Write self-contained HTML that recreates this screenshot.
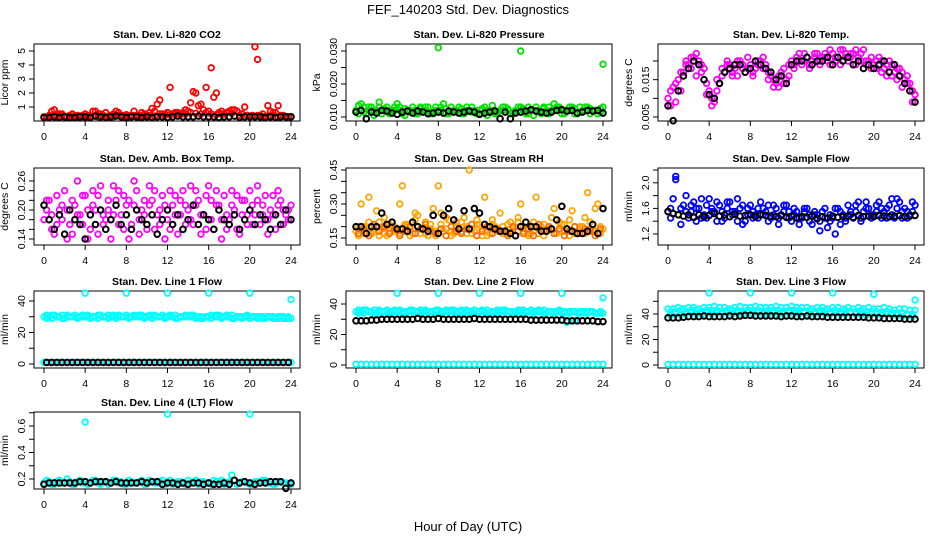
<!DOCTYPE html>
<html><head><meta charset="utf-8">
<style>
html,body{margin:0;padding:0;background:#fff;}
svg{display:block;font-family:"Liberation Sans",sans-serif;}
</style></head>
<body>
<svg id="chart" width="936" height="540" viewBox="0 0 936 540">
<text x="468" y="14" text-anchor="middle" font-size="13">FEF_140203  Std. Dev. Diagnostics</text>
<text x="468" y="531" text-anchor="middle" font-size="13">Hour of Day (UTC)</text>
</svg>
<script>
// ---------- DATA ----------
const xTicks = [0,4,8,12,16,20,24];

const co2Red1 = [0.3,0.4,0.8,0.5,0.3,0.4,0.3,0.35,0.5,0.3,0.7,0.5,0.6,0.4,0.7,0.3,0.45,0.4,0.3,0.6,0.4,0.9,1.2,0.5,0.6,0.5,0.6,0.6,0.7,2.1,1.1,0.8,0.7,1.7,0.6,0.5,0.7,0.8,0.4,1.0,0.3,5.3,0.4,0.3,0.7,0.6,0.4,0.3,0.3];
const co2Red2 = [0.3,0.7,0.4,0.5,0.3,0.5,0.4,0.3,0.4,0.7,0.5,0.4,0.3,0.5,0.6,0.4,0.3,0.7,0.4,0.5,0.6,0.7,1.5,0.5,2.4,0.6,0.5,0.8,1.3,2.0,1.2,2.4,3.8,2.0,0.7,0.6,0.8,0.7,0.5,0.4,0.4,4.4,0.5,1.1,0.6,1.1,0.4,0.3];
const co2Red3 = [0.25,0.35,0.3,0.4,0.3,0.35,0.3,0.4,0.3,0.35,0.3,0.4,0.35,0.3,0.4,0.3,0.35,0.4,0.3,0.35,0.4,0.35,0.5,0.4,0.45,0.5,0.45,0.5,0.6,0.55,0.5,0.6,0.5,0.45,0.5,0.6,0.55,0.7,0.5,0.4,0.35,0.4,0.3,0.35,0.4,0.3,0.35,0.3];
const co2Black = [0.25,0.25,0.3,0.25,0.3,0.25,0.25,0.3,0.3,0.25,0.35,0.3,0.25,0.3,0.35,0.3,0.25,0.3,0.3,0.25,0.3,0.25,0.3,0.3,0.25,0.3,0.35,0.3,0.3,0.3,0.35,0.3,0.3,0.3,0.25,0.3,0.3,0.35,0.25,0.3,0.3,0.3,0.3,0.25,0.3,0.25,0.3,0.3,0.3];

const presGreen1 = [0.012,0.014,0.011,0.013,0.012,0.011,0.013,0.012,0.014,0.011,0.012,0.013,0.011,0.012,0.013,0.011,0.012,0.014,0.011,0.012,0.013,0.011,0.012,0.012,0.011,0.013,0.012,0.011,0.012,0.013,0.011,0.012,0.013,0.011,0.012,0.013,0.011,0.012,0.012,0.013,0.011,0.012,0.013,0.011,0.012,0.013,0.012,0.011,0.013];
const presGreen2 = [0.011,0.013,0.012,0.0105,0.013,0.012,0.011,0.013,0.012,0.0105,0.012,0.011,0.013,0.012,0.011,0.013,0.012,0.011,0.013,0.012,0.011,0.012,0.013,0.011,0.012,0.0105,0.012,0.011,0.013,0.012,0.011,0.013,0.012,0.011,0.0105,0.012,0.013,0.011,0.012,0.013,0.011,0.012,0.011,0.013,0.012,0.011,0.012,0.0115];
const presGreen3 = [0.0135,0.0115,0.013,0.012,0.0145,0.0125,0.0115,0.012,0.013,0.0125,0.0115,0.012,0.0125,0.013,0.0115,0.012,0.013,0.0125,0.0115,0.012,0.0125,0.013,0.0115,0.012,0.0125,0.012,0.0135,0.0115,0.012,0.0125,0.0115,0.012,0.0125,0.013,0.012,0.0115,0.0125,0.013,0.014,0.0125,0.012,0.013,0.0125,0.0115,0.013,0.0125,0.012,0.0125];
const presOutT = [8,16,24];
const presOutV = [0.031,0.030,0.026];
const presBlack = [0.0115,0.012,0.0095,0.0115,0.0112,0.012,0.0118,0.0112,0.0108,0.0115,0.0118,0.0112,0.0118,0.0115,0.011,0.0112,0.0115,0.0112,0.0118,0.0115,0.0112,0.0115,0.0118,0.0115,0.0108,0.0112,0.0115,0.0118,0.0095,0.0115,0.0095,0.0112,0.0115,0.0118,0.0122,0.0118,0.0115,0.0112,0.0115,0.012,0.0122,0.0118,0.012,0.0112,0.0115,0.012,0.0118,0.012,0.0112];

const tempPink1 = [0.010,0.013,0.015,0.017,0.019,0.021,0.020,0.018,0.012,0.009,0.014,0.017,0.019,0.018,0.020,0.017,0.019,0.018,0.020,0.019,0.016,0.014,0.017,0.015,0.020,0.021,0.019,0.021,0.020,0.022,0.021,0.020,0.022,0.021,0.023,0.020,0.022,0.021,0.023,0.020,0.019,0.021,0.018,0.020,0.017,0.018,0.015,0.014,0.011];
const tempPink2 = [0.012,0.009,0.017,0.019,0.021,0.016,0.019,0.014,0.010,0.012,0.016,0.019,0.016,0.020,0.018,0.021,0.017,0.020,0.018,0.017,0.013,0.016,0.014,0.019,0.018,0.020,0.022,0.019,0.021,0.020,0.022,0.019,0.021,0.023,0.021,0.022,0.019,0.022,0.020,0.018,0.020,0.017,0.019,0.016,0.018,0.013,0.016,0.012];
const tempPink3 = [0.008,0.014,0.012,0.020,0.018,0.022,0.017,0.011,0.008,0.015,0.018,0.020,0.017,0.016,0.019,0.018,0.016,0.019,0.021,0.015,0.015,0.013,0.018,0.016,0.019,0.022,0.020,0.018,0.022,0.019,0.021,0.023,0.020,0.019,0.022,0.021,0.023,0.020,0.019,0.021,0.018,0.020,0.016,0.019,0.015,0.017,0.014,0.009];
const tempBlack = [0.008,0.004,0.012,0.016,0.018,0.020,0.019,0.015,0.011,0.010,0.014,0.017,0.018,0.019,0.019,0.017,0.018,0.020,0.019,0.018,0.017,0.015,0.016,0.014,0.019,0.020,0.020,0.021,0.019,0.020,0.020,0.021,0.019,0.021,0.020,0.021,0.019,0.020,0.018,0.019,0.018,0.019,0.020,0.017,0.019,0.016,0.014,0.012,0.009];

const ambPink1 = [0.18,0.22,0.15,0.20,0.24,0.17,0.21,0.19,0.23,0.16,0.20,0.25,0.18,0.14,0.22,0.19,0.21,0.17,0.24,0.20,0.16,0.22,0.19,0.23,0.18,0.21,0.15,0.24,0.20,0.17,0.22,0.19,0.25,0.16,0.21,0.23,0.18,0.20,0.15,0.22,0.24,0.19,0.17,0.23,0.20,0.16,0.22,0.19,0.21];
const ambPink2 = [0.20,0.16,0.23,0.18,0.14,0.22,0.26,0.17,0.20,0.24,0.15,0.19,0.22,0.25,0.17,0.23,0.14,0.21,0.18,0.22,0.25,0.16,0.20,0.14,0.24,0.19,0.22,0.17,0.25,0.21,0.15,0.23,0.18,0.21,0.14,0.19,0.24,0.16,0.22,0.19,0.17,0.25,0.21,0.15,0.19,0.24,0.17,0.20];
const ambPink3 = [0.22,0.19,0.17,0.21,0.20,0.15,0.19,0.23,0.14,0.21,0.23,0.17,0.20,0.19,0.24,0.16,0.22,0.26,0.15,0.19,0.21,0.24,0.17,0.21,0.16,0.23,0.19,0.21,0.18,0.24,0.19,0.16,0.22,0.24,0.18,0.16,0.21,0.23,0.19,0.17,0.21,0.22,0.19,0.18,0.23,0.21,0.20,0.18];
const ambBlack = [0.21,0.18,0.16,0.19,0.15,0.20,0.18,0.17,0.14,0.19,0.17,0.20,0.16,0.18,0.21,0.17,0.19,0.16,0.20,0.18,0.17,0.19,0.15,0.18,0.20,0.17,0.19,0.16,0.18,0.21,0.17,0.19,0.18,0.16,0.20,0.18,0.17,0.19,0.16,0.18,0.20,0.17,0.19,0.18,0.16,0.19,0.17,0.20,0.18];

const rhOrange1 = [0.18,0.30,0.20,0.17,0.27,0.19,0.16,0.22,0.18,0.38,0.21,0.17,0.25,0.19,0.16,0.28,0.38,0.18,0.23,0.17,0.19,0.24,0.45,0.18,0.21,0.33,0.17,0.20,0.26,0.18,0.22,0.16,0.30,0.19,0.17,0.33,0.20,0.18,0.24,0.17,0.21,0.19,0.27,0.17,0.20,0.35,0.18,0.30,0.19];
const rhOrange2 = [0.16,0.20,0.33,0.19,0.22,0.17,0.21,0.18,0.30,0.20,0.16,0.23,0.19,0.17,0.21,0.18,0.26,0.19,0.16,0.22,0.18,0.20,0.17,0.23,0.19,0.16,0.21,0.18,0.20,0.17,0.19,0.22,0.18,0.16,0.20,0.17,0.21,0.19,0.17,0.22,0.18,0.16,0.20,0.19,0.17,0.22,0.18,0.20];
const rhOrange3 = [0.20,0.17,0.22,0.18,0.16,0.24,0.18,0.20,0.17,0.21,0.19,0.26,0.17,0.22,0.19,0.16,0.21,0.24,0.18,0.20,0.22,0.17,0.19,0.21,0.16,0.20,0.23,0.19,0.17,0.21,0.18,0.24,0.20,0.17,0.22,0.19,0.16,0.20,0.28,0.18,0.21,0.23,0.17,0.20,0.24,0.19,0.28,0.17];
const rhOrange4 = [0.17,0.19,0.16,0.21,0.18,0.20,0.17,0.19,0.16,0.18,0.20,0.17,0.19,0.21,0.18,0.17,0.19,0.16,0.20,0.18,0.17,0.19,0.21,0.16,0.18,0.20,0.17,0.19,0.18,0.16,0.20,0.18,0.17,0.19,0.16,0.21,0.18,0.20,0.17,0.19,0.16,0.18,0.20,0.17,0.19,0.18,0.16,0.19];
const rhBlack = [0.20,0.20,0.17,0.20,0.20,0.26,0.21,0.22,0.19,0.19,0.18,0.22,0.20,0.19,0.18,0.25,0.17,0.25,0.28,0.23,0.19,0.27,0.19,0.28,0.26,0.21,0.20,0.19,0.18,0.18,0.17,0.16,0.20,0.22,0.20,0.20,0.18,0.18,0.19,0.23,0.29,0.19,0.18,0.17,0.17,0.18,0.21,0.17,0.28];

const flowBlue1 = [1.55,1.75,1.50,1.65,1.45,1.70,1.60,1.50,1.75,1.55,1.65,1.45,1.70,1.55,1.60,1.40,1.65,1.50,1.70,1.55,1.45,1.60,1.50,1.65,1.40,1.55,1.45,1.60,1.35,1.50,1.55,1.30,1.45,1.60,1.50,1.65,1.45,1.70,1.55,1.60,1.50,1.70,1.55,1.65,1.45,1.70,1.60,1.50,1.65];
const flowBlue2 = [1.45,2.10,1.60,1.80,1.55,1.40,1.75,1.45,1.60,1.70,1.40,1.60,1.55,1.75,1.35,1.60,1.55,1.45,1.60,1.40,1.65,1.35,1.55,1.45,1.60,1.35,1.55,1.40,1.50,1.25,1.45,1.40,1.60,1.35,1.45,1.55,1.65,1.40,1.60,1.50,1.65,1.45,1.60,1.50,1.75,1.55,1.45,1.55];
const flowBlue3 = [1.60,2.05,1.35,1.55,1.65,1.60,1.45,1.65,1.55,1.40,1.55,1.70,1.50,1.40,1.65,1.50,1.45,1.60,1.50,1.65,1.50,1.45,1.65,1.55,1.50,1.45,1.60,1.50,1.55,1.40,1.60,1.50,1.20,1.55,1.40,1.50,1.55,1.45,1.70,1.45,1.55,1.60,1.45,1.75,1.60,1.45,1.55,1.70];
const flowBlack = [1.55,1.52,1.50,1.48,1.50,1.46,1.50,1.47,1.49,1.52,1.48,1.50,1.47,1.51,1.48,1.49,1.50,1.47,1.50,1.49,1.48,1.47,1.49,1.46,1.48,1.45,1.47,1.46,1.48,1.44,1.47,1.45,1.48,1.46,1.47,1.48,1.46,1.49,1.47,1.48,1.47,1.49,1.48,1.47,1.48,1.49,1.47,1.48,1.49];

const l1Cyan1 = [30,30,31,30,29,30,31,30,30,29,30,31,30,30,29,30,31,30,30,31,30,29,30,31,30,30,29,30,30,31,30,29,30,30,31,30,30,29,30,30,29,30,30,29,30,29,30,29,29];
const l1Cyan2 = [31,29,30,31,30,30,29,31,30,30,31,30,29,31,30,30,30,31,30,29,31,30,30,30,31,29,30,31,30,30,29,30,31,30,29,30,31,30,29,30,30,29,30,30,29,30,29,30];
const l1Cyan3 = [29,31,30,29,31,30,30,30,31,30,29,30,31,30,31,30,29,30,31,30,30,31,30,29,30,31,30,30,31,29,30,30,29,31,30,31,29,30,30,31,30,30,29,30,30,29,30,29];
const l1Low = [1,1,1,1,1,1,1,1,1,1,1,1,1,1,1,1,1,1,1,1,1,1,1,1,1,1,1,1,1,1,1,1,1,1,1,1,1,1,1,1,1,1,1,1,1,1,1,1,1];
const l1OutT = [4,8,12,16,20,24];
const l1OutV = [45,45,45,45,45,41];
const l1Black = [1,1,1,1,1,1,1,1,1,1,1,1,1,1,1,1,1,1,1,1,1,1,1,1,1,1,1,1,1,1,1,1,1,1,1,1,1,1,1,1,1,1,1,1,1,1,1,1];

const l2Cyan1 = [35,35,36,35,34,35,36,35,35,34,35,36,35,35,34,35,36,35,35,36,35,34,35,36,35,35,34,35,35,36,35,34,35,35,36,35,35,34,35,35,34,28,35,34,35,34,35,34,34];
const l2Cyan2 = [36,34,35,36,35,35,34,36,35,35,36,35,34,36,35,35,35,36,35,34,36,35,35,35,36,34,35,36,35,35,34,35,36,35,34,35,36,35,34,35,35,34,29,35,34,35,34,35];
const l2Cyan3 = [34,36,35,34,36,35,35,35,36,34,35,35,36,35,35,36,34,35,36,35,35,36,34,35,35,36,35,34,36,35,35,36,34,35,35,36,34,35,35,36,34,35,35,34,35,35,34,34];
const l2Low = [0.5,0.5,0.5,0.5,0.5,0.5,0.5,0.5,0.5,0.5,0.5,0.5,0.5,0.5,0.5,0.5,0.5,0.5,0.5,0.5,0.5,0.5,0.5,0.5,0.5,0.5,0.5,0.5,0.5,0.5,0.5,0.5,0.5,0.5,0.5,0.5,0.5,0.5,0.5,0.5,0.5,0.5,0.5,0.5,0.5,0.5,0.5,0.5,0.5];
const l2OutT = [4,8,12,16,20,24];
const l2OutV = [47,47,47,47,47,44];
const l2Black = [29,29,29,29.5,29.5,30,30,30,30,30,30,30,30.5,30,30,30,30.5,30,30,30,30,30,30,30.5,30,30,30,30,30,30,30,30,30,30,29.5,29.5,29.5,29.5,29.5,29.5,29.5,29,29,29,29,29,29,28.5,28.5];

const l3Cyan1 = [44,44,45,44,45,45,44,45,45,46,45,45,44,45,46,45,45,46,45,45,45,46,45,45,46,45,45,45,44,45,45,44,45,45,44,45,44,45,44,45,44,44,45,44,43,44,44,43,43];
const l3Cyan2 = [39,40,39,40,41,40,40,41,40,41,40,41,40,41,40,41,40,41,40,40,41,40,40,41,40,40,41,40,40,41,40,40,41,40,40,41,40,40,39,40,40,39,40,39,39,38,39,38];
const l3Cyan3 = [42,42,43,42,43,43,42,43,43,43,42,43,43,43,42,43,43,43,42,43,43,43,42,43,43,43,42,43,42,43,43,42,43,42,43,42,42,43,42,42,42,41,42,41,41,41,40,40];
const l3Low = [0.5,0.5,0.5,0.5,0.5,0.5,0.5,0.5,0.5,0.5,0.5,0.5,0.5,0.5,0.5,0.5,0.5,0.5,0.5,0.5,0.5,0.5,0.5,0.5,0.5,0.5,0.5,0.5,0.5,0.5,0.5,0.5,0.5,0.5,0.5,0.5,0.5,0.5,0.5,0.5,0.5,0.5,0.5,0.5,0.5,0.5,0.5,0.5,0.5];
const l3OutT = [4,8,12,16,20,24];
const l3OutV = [56.5,56.5,56.5,56.5,55.5,51];
const l3Black = [37,37,37,37.5,38,38,38,38.5,38,38,38,38,38.5,38,38.5,39,39,38.5,38.5,38.5,38.5,38.5,38,38.5,38.5,38,38,38.5,38,38,38,37.5,37.5,37.5,37.5,37.5,37.5,37.5,37.5,37,37,37,36.5,36.5,36.5,36.5,36,36,36];

const l4Cyan1 = [0.17,0.18,0.16,0.19,0.17,0.18,0.16,0.19,0.18,0.17,0.19,0.16,0.18,0.17,0.19,0.18,0.16,0.18,0.17,0.19,0.16,0.18,0.17,0.19,0.18,0.16,0.18,0.17,0.19,0.18,0.16,0.18,0.17,0.19,0.18,0.16,0.18,0.19,0.17,0.18,0.16,0.18,0.17,0.19,0.18,0.16,0.18,0.17,0.16];
const l4Cyan2 = [0.19,0.16,0.18,0.17,0.20,0.16,0.18,0.17,0.16,0.19,0.17,0.18,0.16,0.19,0.17,0.16,0.19,0.17,0.18,0.16,0.19,0.17,0.18,0.16,0.19,0.17,0.18,0.16,0.17,0.19,0.18,0.17,0.16,0.18,0.19,0.17,0.23,0.16,0.18,0.17,0.16,0.18,0.19,0.17,0.16,0.18,0.17,0.16];
const l4OutT = [4,12,20];
const l4OutV = [0.63,0.69,0.69];
const l4Black = [0.16,0.17,0.17,0.17,0.17,0.17,0.17,0.18,0.18,0.17,0.18,0.18,0.18,0.17,0.18,0.17,0.17,0.17,0.17,0.18,0.17,0.18,0.18,0.16,0.17,0.17,0.16,0.17,0.16,0.17,0.17,0.16,0.17,0.16,0.16,0.17,0.16,0.19,0.17,0.18,0.17,0.16,0.17,0.17,0.18,0.18,0.18,0.13,0.17];

// ---------- RENDER ----------
const NS = 'http://www.w3.org/2000/svg';
const svg = document.getElementById('chart');
function mk(tag, attrs, parent){
  const e = document.createElementNS(NS, tag);
  for (const k in attrs) e.setAttribute(k, attrs[k]);
  (parent||svg).appendChild(e);
  return e;
}
const BW = 266, BH = 77;

function panel(cfg){
  const g = mk('g', {});
  
  
  const L = cfg.left, T = cfg.top, B = T + BH;
  const xs = t => L + 10 + t * 247 / 24;
  const ys = v => cfg.p1 + (v - cfg.v1) * (cfg.p2 - cfg.p1) / (cfg.v2 - cfg.v1);
  const title = mk('text', {x: L + BW/2, y: T - 6, 'text-anchor':'middle', 'font-size':'10.5', 'font-weight':'bold'}, g);
  title.textContent = cfg.title;
  
  
  const box = mk('rect', {x: L, y: T, width: BW, height: BH, fill:'none', stroke:'#000', 'stroke-width':'1'}, g);
  
  
  xTicks.forEach(t => {
    mk('line', {x1: xs(t), x2: xs(t), y1: B, y2: B + 5, stroke:'#000'}, g);
    const tl = mk('text', {x: xs(t), y: B + 19, 'text-anchor':'middle', 'font-size':'10.5'}, g);
    tl.textContent = t;
    
    
  });
  cfg.yTicks.forEach(v => {
    mk('line', {x1: L - 5, x2: L, y1: ys(v), y2: ys(v), stroke:'#000'}, g);
  });
  cfg.yLabels.forEach(v => {
    const yy = ys(v);
    const tl = mk('text', {x: L - 9, y: yy, 'text-anchor':'middle', 'font-size':'10.5', transform:`rotate(-90 ${L-9} ${yy})`}, g);
    tl.textContent = cfg.fmt(v);
    
    
  });
  const ym = T + BH/2;
  const yt = mk('text', {x: L - 26, y: ym, 'text-anchor':'middle', 'font-size':'10.5', transform:`rotate(-90 ${L-26} ${ym})`}, g);
  yt.textContent = cfg.unit;
  
  
  cfg.series.forEach(s => {
    const sg = mk('g', {stroke: s.color, 'stroke-width': s.sw || 1.8, fill:'none'}, g);
    
    
    const n = s.vals.length;
    s.vals.forEach((v, i) => {
      let t;
      if (s.times) t = s.times[i];
      else if (s.offset) t = (i + 0.5) * 24 / n;
      else t = i * 24 / (n - 1);
      const c = mk('circle', {cx: xs(t), cy: ys(v), r: 2.8}, sg);
      
      
    });
  });
}

const f2 = v => v.toFixed(0);
const RED='#ff0000', GRN='#00e000', MAG='#ff00ff', ORG='#ffa500', BLU='#0000ff', CY='#00ffff', BLK='#000';

panel({name:'co2', title:'Stan. Dev. Li-820 CO2', unit:'Licor ppm', left:34, top:44, v1:1, p1:107, v2:5, p2:51,
  yTicks:[1,2,3,4,5], yLabels:[1,2,3,4,5], fmt:v=>String(v),
  series:[{name:'co2-red-1',color:RED,vals:co2Red1},{name:'co2-red-2',color:RED,vals:co2Red2,offset:true},{name:'co2-red-3',color:RED,vals:co2Red3,offset:true},{name:'co2-black',color:BLK,vals:co2Black,sw:2}]});
panel({name:'pressure', title:'Stan. Dev. Li-820 Pressure', unit:'kPa', left:346, top:44, v1:0.010, p1:117, v2:0.030, p2:51,
  yTicks:[0.010,0.015,0.020,0.025,0.030], yLabels:[0.010,0.020,0.030], fmt:v=>v.toFixed(3),
  series:[{name:'pressure-green-1',color:GRN,vals:presGreen1},{name:'pressure-green-2',color:GRN,vals:presGreen2,offset:true},{name:'pressure-green-3',color:GRN,vals:presGreen3,offset:true},{name:'pressure-green-outliers',color:GRN,vals:presOutV,times:presOutT},{name:'pressure-black',color:BLK,vals:presBlack,sw:2}]});
panel({name:'temp', title:'Stan. Dev. Li-820 Temp.', unit:'degrees C', left:658, top:44, v1:0.005, p1:117, v2:0.020, p2:61,
  yTicks:[0.005,0.010,0.015,0.020], yLabels:[0.005,0.015], fmt:v=>v.toFixed(3),
  series:[{name:'temp-pink-1',color:MAG,vals:tempPink1},{name:'temp-pink-2',color:MAG,vals:tempPink2,offset:true},{name:'temp-pink-3',color:MAG,vals:tempPink3,offset:true},{name:'temp-black',color:BLK,vals:tempBlack,sw:2}]});
panel({name:'amb-box-temp', title:'Stan. Dev. Amb. Box Temp.', unit:'degrees C', left:34, top:168, v1:0.14, p1:239, v2:0.26, p2:181,
  yTicks:[0.14,0.16,0.18,0.20,0.22,0.24,0.26], yLabels:[0.14,0.20,0.26], fmt:v=>v.toFixed(2),
  series:[{name:'amb-pink-1',color:MAG,vals:ambPink1},{name:'amb-pink-2',color:MAG,vals:ambPink2,offset:true},{name:'amb-pink-3',color:MAG,vals:ambPink3,offset:true},{name:'amb-black',color:BLK,vals:ambBlack,sw:2}]});
panel({name:'gas-rh', title:'Stan. Dev. Gas Stream RH', unit:'percent', left:346, top:168, v1:0.15, p1:238, v2:0.45, p2:170,
  yTicks:[0.15,0.20,0.25,0.30,0.35,0.40,0.45], yLabels:[0.15,0.30,0.45], fmt:v=>v.toFixed(2),
  series:[{name:'rh-orange-1',color:ORG,vals:rhOrange1},{name:'rh-orange-2',color:ORG,vals:rhOrange2,offset:true},{name:'rh-orange-3',color:ORG,vals:rhOrange3,offset:true},{name:'rh-orange-4',color:'#ff6a00',vals:rhOrange4,offset:true},{name:'rh-black',color:BLK,vals:rhBlack,sw:2}]});
panel({name:'sample-flow', title:'Stan. Dev. Sample Flow', unit:'ml/min', left:658, top:168, v1:1.2, p1:234, v2:2.2, p2:170,
  yTicks:[1.2,1.4,1.6,1.8,2.0,2.2], yLabels:[1.2,1.6,2.0], fmt:v=>v.toFixed(1),
  series:[{name:'flow-blue-1',color:BLU,vals:flowBlue1},{name:'flow-blue-2',color:BLU,vals:flowBlue2,offset:true},{name:'flow-blue-3',color:BLU,vals:flowBlue3,offset:true},{name:'flow-black',color:BLK,vals:flowBlack,sw:2}]});
panel({name:'line1-flow', title:'Stan. Dev. Line 1 Flow', unit:'ml/min', left:34, top:291, v1:0, p1:364, v2:40, p2:301,
  yTicks:[0,10,20,30,40], yLabels:[0,20,40], fmt:f2,
  series:[{name:'line1-cyan-1',color:CY,vals:l1Cyan1},{name:'line1-cyan-2',color:CY,vals:l1Cyan2,offset:true},{name:'line1-cyan-3',color:CY,vals:l1Cyan3,offset:true},{name:'line1-cyan-low',color:CY,vals:l1Low},{name:'line1-cyan-outliers',color:CY,vals:l1OutV,times:l1OutT},{name:'line1-black',color:BLK,vals:l1Black,offset:true,sw:2}]});
panel({name:'line2-flow', title:'Stan. Dev. Line 2 Flow', unit:'ml/min', left:346, top:291, v1:0, p1:365, v2:40, p2:304,
  yTicks:[0,10,20,30,40], yLabels:[0,20,40], fmt:f2,
  series:[{name:'line2-cyan-1',color:CY,vals:l2Cyan1},{name:'line2-cyan-2',color:CY,vals:l2Cyan2,offset:true},{name:'line2-cyan-3',color:CY,vals:l2Cyan3,offset:true},{name:'line2-cyan-low',color:CY,vals:l2Low},{name:'line2-cyan-outliers',color:CY,vals:l2OutV,times:l2OutT},{name:'line2-black',color:BLK,vals:l2Black,sw:2}]});
panel({name:'line3-flow', title:'Stan. Dev. Line 3 Flow', unit:'ml/min', left:658, top:291, v1:0, p1:365, v2:40, p2:314,
  yTicks:[0,10,20,30,40,50], yLabels:[0,20,40], fmt:f2,
  series:[{name:'line3-cyan-1',color:CY,vals:l3Cyan1},{name:'line3-cyan-2',color:CY,vals:l3Cyan2,offset:true},{name:'line3-cyan-3',color:CY,vals:l3Cyan3,offset:true},{name:'line3-cyan-low',color:CY,vals:l3Low},{name:'line3-cyan-outliers',color:CY,vals:l3OutV,times:l3OutT},{name:'line3-black',color:BLK,vals:l3Black,sw:2}]});
panel({name:'line4-flow', title:'Stan. Dev. Line 4 (LT) Flow', unit:'ml/min', left:34, top:412, v1:0.2, p1:479, v2:0.6, p2:426,
  yTicks:[0.2,0.3,0.4,0.5,0.6,0.7], yLabels:[0.2,0.4,0.6], fmt:v=>v.toFixed(1),
  series:[{name:'line4-cyan-1',color:CY,vals:l4Cyan1},{name:'line4-cyan-2',color:CY,vals:l4Cyan2,offset:true},{name:'line4-cyan-outliers',color:CY,vals:l4OutV,times:l4OutT},{name:'line4-black',color:BLK,vals:l4Black,sw:2}]});
</script>
</body></html>
